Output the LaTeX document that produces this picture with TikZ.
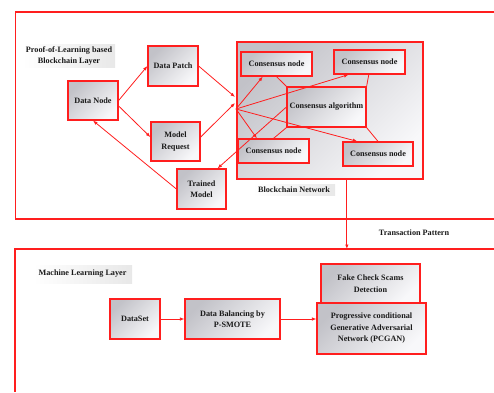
\documentclass[tikz,border=0pt]{standalone}
\usepackage{fontspec}
\setmainfont{Liberation Serif}
\usetikzlibrary{arrows.meta,calc}
\definecolor{lred}{RGB}{255,30,30}
\definecolor{shadeA}{RGB}{194,194,200}
\definecolor{shadeB}{RGB}{248,248,250}
\begin{document}
\begin{tikzpicture}[x=1pt,y=-1pt,
  txt/.style={font=\fontsize{8.2}{11.5}\selectfont\bfseries, align=center, text=black!90},
  box/.style={txt, draw=lred, line width=1.2pt, top color=shadeA, bottom color=shadeB, shading angle=45, inner sep=1pt},
  lbl/.style={txt, left color=white, right color=black!9, inner sep=1.5pt},
  frame/.style={draw=lred, line width=1.1pt},
  conn/.style={draw=lred, line width=0.8pt},
  arr/.style={conn, -{Latex[length=4.5pt,width=3.5pt]}}]
\useasboundingbox (0,0) rectangle (494,392);
% layer frames
\draw[frame] (494,12) -- (15.5,12) -- (15.5,219) -- (494,219);
\draw[frame] (494,249) -- (15,249) -- (15,392);
\coordinate (mltop) at (0,249);
% labels
\node[lbl, minimum width=92pt, minimum height=22pt] (pol) at (69,56) {Proof-of-Learning based\\Blockchain Layer};
\node[lbl, minimum width=99pt, minimum height=18pt] (mll) at (82.5,274) {Machine Learning Layer};
\node[lbl, minimum width=82pt, minimum height=11pt] (bcl) at (294,190) {Blockchain Network};
\node[txt] (tpl) at (414,233) {Transaction Pattern};
% blockchain network
\node[box, minimum width=186pt, minimum height=137pt] (bc) at (330,110.5) {};
\node[box, minimum width=71pt, minimum height=24pt] (cn1) at (276.5,64) {Consensus node};
\node[box, minimum width=71pt, minimum height=24pt] (cn2) at (369.5,62) {Consensus node};
\node[box, minimum width=79pt, minimum height=40pt] (alg) at (326.5,107) {Consensus algorithm};
\node[box, minimum width=71pt, minimum height=24pt] (cn3) at (273.5,151) {Consensus node};
\node[box, minimum width=70pt, minimum height=24pt] (cn4) at (378,154) {Consensus node};
% left nodes
\node[box, minimum width=50pt, minimum height=39pt] (dn) at (93,100.5) {Data Node};
\node[box, minimum width=50pt, minimum height=40pt] (dp) at (173,66) {Data Patch};
\node[box, minimum width=49pt, minimum height=39pt] (mr) at (175.5,141.5) {Model\\Request};
\node[box, minimum width=49pt, minimum height=40pt] (tm) at (201.5,189) {Trained\\Model};
% machine learning layer
\node[box, minimum width=50pt, minimum height=40pt] (ds) at (135,319) {DataSet};
\node[box, minimum width=95pt, minimum height=40pt] (dbal) at (232.5,319) {Data Balancing by\\P-SMOTE};
\node[box, minimum width=99pt, minimum height=39pt] (fake) at (370.5,283.5) {Fake Check Scams\\Detection};
\node[box, minimum width=109pt, minimum height=51pt] (pcgan) at (371.5,328.5) {Progressive conditional\\Generative Adversarial\\Network (PCGAN)};
% hub coordinates
\coordinate (hub) at (236,109);
\coordinate (hubA) at (235,97);
\coordinate (hubB) at (235,103);
% left connectors
\draw[arr] (dn.east) -- (dp.west);
\draw[arr] (dn.-12) -- (mr.170);
\draw[arr] (dp.east) -- (hubA);
\draw[arr] (mr.10) -- (hubB);
\draw[arr] (tm.west) -- (dn.south);
% blockchain connectors
\draw[arr] (hub) -- ($(cn1.south west)!0.31!(cn1.south east)$);
\draw[arr] (hub) -- ($(cn2.south west)!0.21!(cn2.south east)$);
\draw[arr] (hub) -- ($(cn3.north west)!0.27!(cn3.north east)$);
\draw[arr] (hub) -- ($(cn4.north west)!0.21!(cn4.north east)$);
\draw[conn] (cn1.south) -- (alg.north west);
\draw[conn] ($(cn2.south west)!0.49!(cn2.south east)$) -- (alg.north east);
\draw[conn] (cn3.north) -- (alg.south west);
\draw[conn] (cn4.north) -- (alg.south east);
\draw[arr] (alg.west) -- ($(tm.north west)!0.82!(tm.north east)$);
% transaction pattern
\coordinate (tx) at ($(bc.south west)!0.59!(bc.south east)$);
\draw[arr] (tx) -- (tx |- mltop);
% ML flow
\draw[arr] (ds.east) -- (dbal.west);
\draw[arr] (dbal.east) -- (dbal.east -| pcgan.west);
\end{tikzpicture}
\end{document}
